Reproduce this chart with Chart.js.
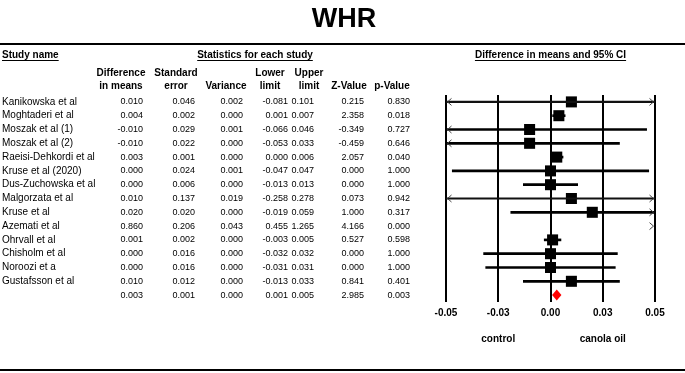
<!DOCTYPE html>
<html>
<head>
<meta charset="utf-8">
<title>WHR</title>
<script src="https://cdn.jsdelivr.net/npm/chart.js@4"></script>
<style>
  body { margin: 0; background: #fff; }
  canvas { display: block; }
</style>
</head>
<body>
<canvas id="forest" width="685" height="373"></canvas>
<script>
// data
const studies = ["Kanikowska et al", "Moghtaderi et al", "Moszak et al (1)", "Moszak et al (2)",
  "Raeisi-Dehkordi et al", "Kruse et al (2020)", "Dus-Zuchowska et al", "Malgorzata et al",
  "Kruse et al", "Azemati et al", "Ohrvall et al", "Chisholm et al", "Noroozi et a", "Gustafsson et al"];
const diffMeans  = [0.010, 0.004, -0.010, -0.010, 0.003, 0.000, 0.000, 0.010, 0.020, 0.860, 0.001, 0.000, 0.000, 0.010];
const stdError   = [0.046, 0.002, 0.029, 0.022, 0.001, 0.024, 0.006, 0.137, 0.020, 0.206, 0.002, 0.016, 0.016, 0.012];
const variance   = [0.002, 0.000, 0.001, 0.000, 0.000, 0.001, 0.000, 0.019, 0.000, 0.043, 0.000, 0.000, 0.000, 0.000];
const lowerLimit = [-0.081, 0.001, -0.066, -0.053, 0.000, -0.047, -0.013, -0.258, -0.019, 0.455, -0.003, -0.032, -0.031, -0.013];
const upperLimit = [0.101, 0.007, 0.046, 0.033, 0.006, 0.047, 0.013, 0.278, 0.059, 1.265, 0.005, 0.032, 0.031, 0.033];
const zValue     = [0.215, 2.358, -0.349, -0.459, 2.057, 0.000, 0.000, 0.073, 1.000, 4.166, 0.527, 0.000, 0.000, 0.841];
const pValue     = [0.830, 0.018, 0.727, 0.646, 0.040, 1.000, 1.000, 0.942, 0.317, 0.000, 0.598, 1.000, 1.000, 0.401];
// pooled row: diff, se, var, lower, upper, z, p
const pooled = [0.003, 0.001, 0.000, 0.001, 0.005, 2.985, 0.003];

const tickValues = [-0.05, -0.025, 0, 0.025, 0.05];
const tickLabels = ["-0.05", "-0.03", "0.00", "0.03", "0.05"];
const xMin = -0.05, xMax = 0.05;

const headTop = ["Difference", "Standard", "", "Lower", "Upper", "", ""];
const headBottom = ["in means", "error", "Variance", "limit", "limit", "Z-Value", "p-Value"];
const leftLabel = "control", rightLabel = "canola oil";

const FONT = '"Liberation Sans", Arial, sans-serif';
const nRows = studies.length + 1;

// CI lines: the ones running off both ends look thinner
const ciThick = [], ciThin = [];
studies.forEach((s, i) => {
  const pt = { x: [lowerLimit[i], upperLimit[i]], y: i };
  if (lowerLimit[i] < xMin && upperLimit[i] > xMax) ciThin.push(pt); else ciThick.push(pt);
});

const colRight = [143, 195, 243, 288, 314, 364, 410];
const headCenter = [121, 176, 226, 270, 309, 349, 392];

function underlined(ctx, text, x, y, align) {
  ctx.textAlign = align;
  ctx.fillText(text, x, y);
  const w = ctx.measureText(text).width;
  const x0 = align === 'center' ? x - w / 2 : x;
  ctx.fillRect(x0, y + 5, w, 1);
}

const tablePlugin = {
  id: 'table',
  afterDatasetsDraw(chart) {
    const { ctx, scales: { x, y } } = chart;
    ctx.save();
    // arrows where the CI runs past the axis
    ctx.strokeStyle = '#444';
    ctx.lineWidth = 1;
    studies.forEach((s, i) => {
      const py = y.getPixelForValue(i);
      if (lowerLimit[i] < xMin) {
        const tip = x.left + 1.5;
        ctx.beginPath();
        ctx.moveTo(tip + 4, py - 3.5); ctx.lineTo(tip, py); ctx.lineTo(tip + 4, py + 3.5);
        ctx.stroke();
      }
      if (upperLimit[i] > xMax) {
        const tip = x.right - 1.5;
        ctx.beginPath();
        ctx.moveTo(tip - 4, py - 3.5); ctx.lineTo(tip, py); ctx.lineTo(tip - 4, py + 3.5);
        ctx.stroke();
      }
    });
    // pooled diamond
    const dy = y.getPixelForValue(studies.length);
    ctx.fillStyle = '#ff0000';
    ctx.beginPath();
    ctx.moveTo(x.getPixelForValue(pooled[3]) - 0.5, dy);
    ctx.lineTo(x.getPixelForValue(pooled[0]), dy - 5.5);
    ctx.lineTo(x.getPixelForValue(pooled[4]) + 0.5, dy);
    ctx.lineTo(x.getPixelForValue(pooled[0]), dy + 5.5);
    ctx.closePath();
    ctx.fill();
    ctx.restore();
  },
  afterDraw(chart) {
    const { ctx, scales: { x, y } } = chart;
    ctx.save();
    ctx.fillStyle = '#000';
    ctx.textBaseline = 'middle';

    ctx.font = 'bold 27px ' + FONT;
    ctx.textAlign = 'center';
    ctx.fillText('WHR', 344, 20);
    ctx.fillRect(0, 43, 685, 2);
    ctx.fillRect(0, 369, 685, 2);

    ctx.font = 'bold 10px ' + FONT;
    underlined(ctx, 'Study name', 2, 55, 'left');
    underlined(ctx, 'Statistics for each study', 255, 55, 'center');
    underlined(ctx, 'Difference in means and 95% CI', (x.left + x.right) / 2, 55, 'center');

    ctx.textAlign = 'center';
    headTop.forEach((t, c) => ctx.fillText(t, headCenter[c], 73));
    headBottom.forEach((t, c) => ctx.fillText(t, headCenter[c], 86));

    ctx.fillText(leftLabel, x.getPixelForValue(-0.025), 339);
    ctx.fillText(rightLabel, x.getPixelForValue(0.025), 339);

    const cols = [diffMeans, stdError, variance, lowerLimit, upperLimit, zValue, pValue];
    studies.forEach((name, i) => {
      const py = y.getPixelForValue(i);
      ctx.font = '10px ' + FONT;
      ctx.textAlign = 'left';
      ctx.fillText(name, 2, py);
      ctx.font = '9px ' + FONT;
      ctx.textAlign = 'right';
      cols.forEach((col, c) => ctx.fillText(col[i].toFixed(3), colRight[c], py));
    });
    const py = y.getPixelForValue(studies.length);
    ctx.textAlign = 'right';
    pooled.forEach((v, c) => ctx.fillText(v.toFixed(3), colRight[c], py));
    ctx.restore();
  }
};

new Chart(document.getElementById('forest'), {
  type: 'scatter',
  data: {
    datasets: [
      { type: 'bar', indexAxis: 'y', data: ciThick, backgroundColor: '#000', borderWidth: 0, barThickness: 2, grouped: false },
      { type: 'bar', indexAxis: 'y', data: ciThin, backgroundColor: '#111', borderWidth: 0, barThickness: 1.5, grouped: false },
      { type: 'scatter', data: studies.map((s, i) => ({ x: diffMeans[i], y: i })),
        pointStyle: 'rect', radius: 7.8, hoverRadius: 7.8, backgroundColor: '#000', borderWidth: 0 }
    ]
  },
  options: {
    responsive: false,
    animation: false,
    events: [],
    layout: { padding: { left: 446, right: 30, top: 95, bottom: 49 } },
    plugins: { legend: { display: false }, tooltip: { enabled: false } },
    scales: {
      x: {
        type: 'linear', min: xMin, max: xMax, offset: false, beginAtZero: false,
        afterBuildTicks: ax => { ax.ticks = tickValues.map(v => ({ value: v })); },
        ticks: {
          callback: (v, i) => tickLabels[i],
          font: { family: FONT, size: 10, weight: 'bold' },
          color: '#000', padding: 5, maxRotation: 0, autoSkip: false
        },
        grid: { color: '#000', lineWidth: 2, drawTicks: false },
        border: { display: false }
      },
      y: { type: 'linear', min: -0.5, max: nRows - 0.5, reverse: true, offset: false, display: false }
    }
  },
  plugins: [tablePlugin]
});
</script>
</body>
</html>
